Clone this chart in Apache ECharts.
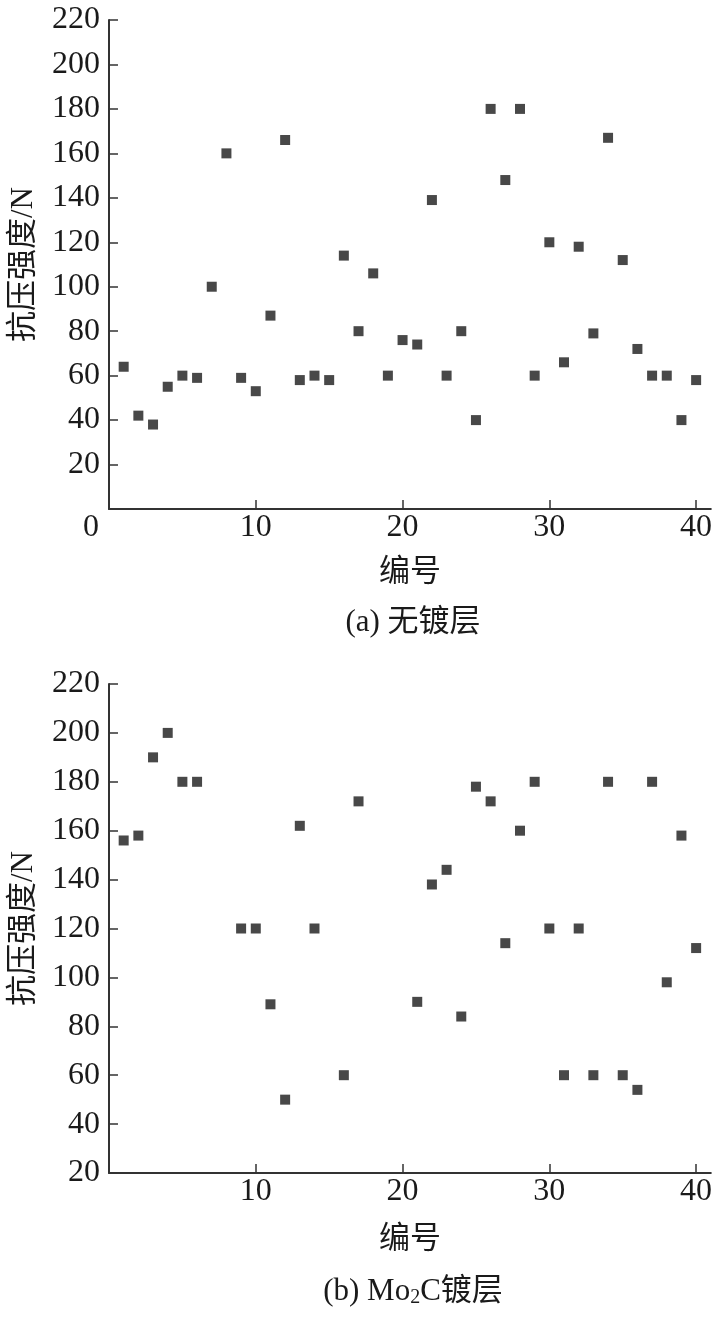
<!DOCTYPE html>
<html>
<head>
<meta charset="utf-8">
<script src="https://cdn.jsdelivr.net/npm/echarts@6/dist/echarts.min.js"></script>
<style>
    html, body { margin: 0; padding: 0; background: #fff; }
    #chart { width: 715px; height: 1319px; }
</style>
</head>
<body>
<div id="chart"></div>
<script>

// sample number 1..40
var sample_no = [];
for (var i = 1; i <= 40; i++) sample_no.push(i);

// (a) no coating, compressive strength / N
var strength_plain = [64, 42, 38, 55, 60, 59, 100, 160, 59, 53,
                      87, 166, 58, 60, 58, 114, 80, 106, 60, 76,
                      74, 139, 60, 80, 40, 180, 148, 180, 60, 120,
                      66, 118, 79, 167, 112, 72, 60, 60, 40, 58];

// (b) Mo2C coating, samples that were measured
var coated_no = [1, 2, 3, 4, 5, 6, 9, 10, 11, 12,
                 13, 14, 16, 17, 21, 22, 23, 24, 25, 26,
                 27, 28, 29, 30, 31, 32, 33, 34, 35, 36,
                 37, 38, 39, 40];
var strength_coated = [156, 158, 190, 200, 180, 180, 120, 120, 89, 50,
                       162, 120, 60, 172, 90, 138, 144, 84, 178, 172,
                       114, 160, 180, 120, 60, 120, 60, 180, 60, 54,
                       180, 98, 158, 112];

var x_labels_a = [0, 10, 20, 30, 40];
var x_labels_b = [10, 20, 30, 40];
var x_ticks = [10, 20, 30, 40];

var serif = "'Liberation Serif', 'Noto Sans CJK SC', serif";
var cjk = "'Liberation Serif', 'Noto Sans CJK SC', sans-serif";
var ink = '#1a1a1a';

function pairs(xs, ys) {
    var out = [];
    for (var k = 0; k < xs.length; k++) out.push([xs[k], ys[k]]);
    return out;
}

function make_x(idx, labels, gap) {
    return {
        gridIndex: idx,
        type: 'value',
        min: 0,
        max: 41,
        interval: 10,
        name: '编号',
        nameLocation: 'middle',
        nameGap: gap,
        nameTextStyle: { fontFamily: cjk, fontSize: 31, color: ink },
        axisLine: { lineStyle: { color: '#333', width: 2 } },
        axisTick: { inside: true, length: 9, customValues: x_ticks, lineStyle: { color: '#333', width: 1.5 } },
        axisLabel: {
            customValues: labels,
            margin: 3,
            fontFamily: serif,
            fontSize: 32,
            color: ink,
            formatter: function (v) { return v === 0 ? '{z|0}' : String(v); },
            rich: { z: { fontFamily: serif, fontSize: 32, color: ink, padding: [0, 36, 0, 0] } }
        },
        splitLine: { show: false }
    };
}

function make_y(idx, min, hideMin) {
    return {
        gridIndex: idx,
        type: 'value',
        min: min,
        max: 220,
        interval: 20,
        name: '抗压强度/N',
        nameLocation: 'middle',
        nameGap: 70,
        nameTextStyle: { fontFamily: cjk, fontSize: 31, color: ink },
        axisLine: { show: true, lineStyle: { color: '#333', width: 2 } },
        axisTick: { show: true, inside: true, length: 9, lineStyle: { color: '#333', width: 1.5 } },
        axisLabel: { showMinLabel: !hideMin, margin: 9, fontFamily: serif, fontSize: 32, color: ink },
        splitLine: { show: false }
    };
}

var myChart = echarts.init(document.getElementById('chart'));

var option = {
    animation: false,
    backgroundColor: '#fff',
    title: [
        {
            text: '(a) 无镀层',
            left: 408, top: 602, textAlign: 'center',
            textStyle: { fontFamily: cjk, fontSize: 31, fontWeight: 'normal', color: ink }
        },
        {
            text: '{n|(b) Mo}{s|2}{n|C镀层}',
            left: 408, top: 1271, textAlign: 'center',
            textStyle: {
                fontWeight: 'normal',
                rich: {
                    n: { fontFamily: cjk, fontSize: 31, color: ink },
                    s: { fontFamily: serif, fontSize: 20, color: ink, padding: [12, 0, 0, 0] }
                }
            }
        }
    ],
    grid: [
        { left: 104, right: 2, top: 20, height: 489 },
        { left: 104, right: 2, top: 684, height: 489 }
    ],
    xAxis: [make_x(0, x_labels_a, 48), make_x(1, x_labels_b, 51)],
    yAxis: [make_y(0, 0, true), make_y(1, 20, false)],
    series: [
        {
            name: '无镀层',
            type: 'scatter',
            xAxisIndex: 0, yAxisIndex: 0,
            symbol: 'rect',
            symbolSize: 10,
            itemStyle: { color: '#1a1a1a' },
            data: pairs(sample_no, strength_plain)
        },
        {
            name: 'Mo2C镀层',
            type: 'scatter',
            xAxisIndex: 1, yAxisIndex: 1,
            symbol: 'rect',
            symbolSize: 10,
            itemStyle: { color: '#1a1a1a' },
            data: pairs(coated_no, strength_coated)
        }
    ]
};

myChart.setOption(option);

</script>
</body>
</html>
